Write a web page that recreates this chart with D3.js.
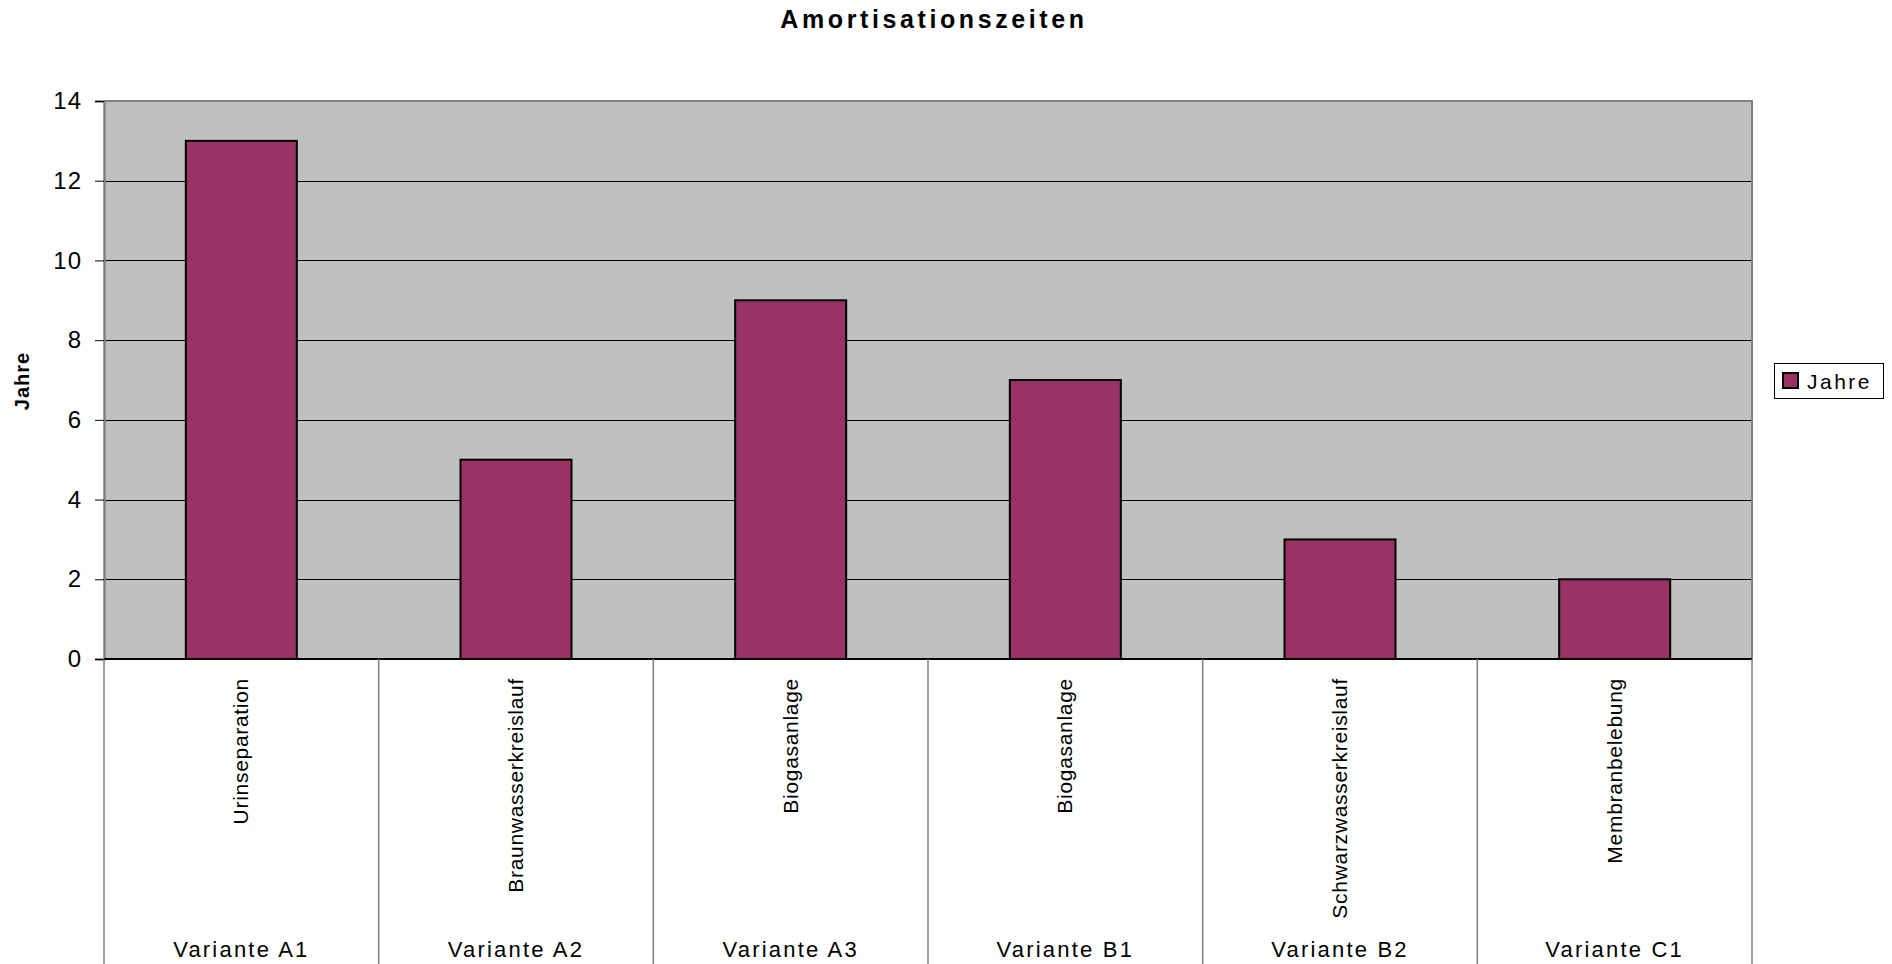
<!DOCTYPE html>
<html>
<head>
<meta charset="utf-8">
<script src="https://cdn.jsdelivr.net/npm/d3@7"></script>
<style>
  html, body { margin: 0; padding: 0; background: #fff; }
  svg { display: block; font-family: Arial, "Liberation Sans", sans-serif; }
</style>
</head>
<body>
<svg id="chart" width="1892" height="964"></svg>
<script>
// Payback periods per variant
const variants = ["Variante A1", "Variante A2", "Variante A3", "Variante B1", "Variante B2", "Variante C1"];
const measures = ["Urinseparation", "Braunwasserkreislauf", "Biogasanlage", "Biogasanlage", "Schwarzwasserkreislauf", "Membranbelebung"];
const years = [13, 5, 9, 7, 3, 2];
const yTicks = [0, 2, 4, 6, 8, 10, 12, 14];
const seriesName = "Jahre";
const chartTitle = "Amortisationszeiten";

const svg = d3.select("#chart");
const plot = { left: 104, right: 1752, top: 101, bottom: 659 };

const x = d3.scaleBand()
  .domain(d3.range(variants.length))
  .range([plot.left, plot.right])
  .paddingInner(0).paddingOuter(0);

const y = d3.scaleLinear().domain([0, 14]).range([plot.bottom, plot.top]);

// Title
svg.append("text")
  .attr("x", 934).attr("y", 28)
  .attr("text-anchor", "middle")
  .style("font-weight", "bold")
  .style("font-size", "25px")
  .style("letter-spacing", "3.6px")
  .text(chartTitle);

// Plot area background
svg.append("rect")
  .attr("x", plot.left).attr("y", plot.top)
  .attr("width", plot.right - plot.left).attr("height", plot.bottom - plot.top)
  .attr("fill", "#c0c0c0");

// Horizontal gridlines
svg.append("g")
  .selectAll("line")
  .data(yTicks.filter(d => d > 0 && d < 14))
  .join("line")
  .attr("x1", plot.left).attr("x2", plot.right)
  .attr("y1", d => Math.round(y(d)) + 0.5).attr("y2", d => Math.round(y(d)) + 0.5)
  .attr("stroke", "#000").attr("stroke-width", 1);

// Plot frame (top and right)
svg.append("path")
  .attr("d", `M${plot.left},${plot.top}H${plot.right}V${plot.bottom}`)
  .attr("fill", "none").attr("stroke", "#808080").attr("stroke-width", 2);

// Bars
const barW = 111;
svg.append("g")
  .selectAll("rect")
  .data(years)
  .join("rect")
  .attr("x", (d, i) => x(i) + x.bandwidth() / 2 - barW / 2)
  .attr("y", d => y(d))
  .attr("width", barW)
  .attr("height", d => y(0) - y(d))
  .attr("fill", "#993366")
  .attr("stroke", "#000")
  .attr("stroke-width", 2);

// Y axis
const yAxis = d3.axisLeft(y).tickValues(yTicks).tickSize(9).tickPadding(13).tickFormat(d3.format("d"));
const yg = svg.append("g").attr("transform", `translate(${plot.left},0)`).call(yAxis);
yg.select(".domain").attr("stroke", "#808080").attr("stroke-width", 2.5);
yg.selectAll(".tick line").attr("stroke", "#000");
yg.selectAll(".tick text")
  .style("font-size", "24px")
  .style("letter-spacing", "1px")
  .style("font-family", "Arial, 'Liberation Sans', sans-serif")
  .attr("fill", "#000");

// Y axis title
svg.append("text")
  .attr("transform", "translate(29,381) rotate(-90)")
  .attr("text-anchor", "middle")
  .style("font-weight", "bold")
  .style("font-size", "20px")
  .style("letter-spacing", "1px")
  .text(seriesName);

// Category axis: baseline and group dividers
svg.append("line")
  .attr("x1", plot.left).attr("x2", plot.right)
  .attr("y1", plot.bottom).attr("y2", plot.bottom)
  .attr("stroke", "#000").attr("stroke-width", 2);

svg.append("g")
  .selectAll("line")
  .data(d3.range(variants.length + 1))
  .join("line")
  .attr("x1", i => (i < variants.length ? x(i) : plot.right))
  .attr("x2", i => (i < variants.length ? x(i) : plot.right))
  .attr("y1", plot.bottom).attr("y2", 964)
  .attr("stroke", "#808080").attr("stroke-width", 1.5);

// Inner category labels (rotated)
svg.append("g")
  .selectAll("text")
  .data(measures)
  .join("text")
  .attr("transform", (d, i) => `translate(${x(i) + x.bandwidth() / 2 + 7},678) rotate(-90)`)
  .attr("text-anchor", "end")
  .style("font-size", "21px")
  .style("letter-spacing", "0.7px")
  .text(d => d);

// Outer category labels
svg.append("g")
  .selectAll("text")
  .data(variants)
  .join("text")
  .attr("x", (d, i) => x(i) + x.bandwidth() / 2)
  .attr("y", 957)
  .attr("text-anchor", "middle")
  .style("font-size", "22px")
  .style("letter-spacing", "2.2px")
  .text(d => d);

// Legend
const lg = svg.append("g").attr("transform", "translate(1774,363)");
lg.append("rect").attr("x", 0.5).attr("y", 0.5).attr("width", 109).attr("height", 35)
  .attr("fill", "#fff").attr("stroke", "#000").attr("stroke-width", 1);
lg.append("rect").attr("x", 9).attr("y", 10).attr("width", 15).attr("height", 15)
  .attr("fill", "#993366").attr("stroke", "#000").attr("stroke-width", 2);
lg.append("text").attr("x", 33).attr("y", 26)
  .style("font-size", "21px")
  .style("letter-spacing", "2.5px")
  .text(seriesName);
</script>
</body>
</html>
